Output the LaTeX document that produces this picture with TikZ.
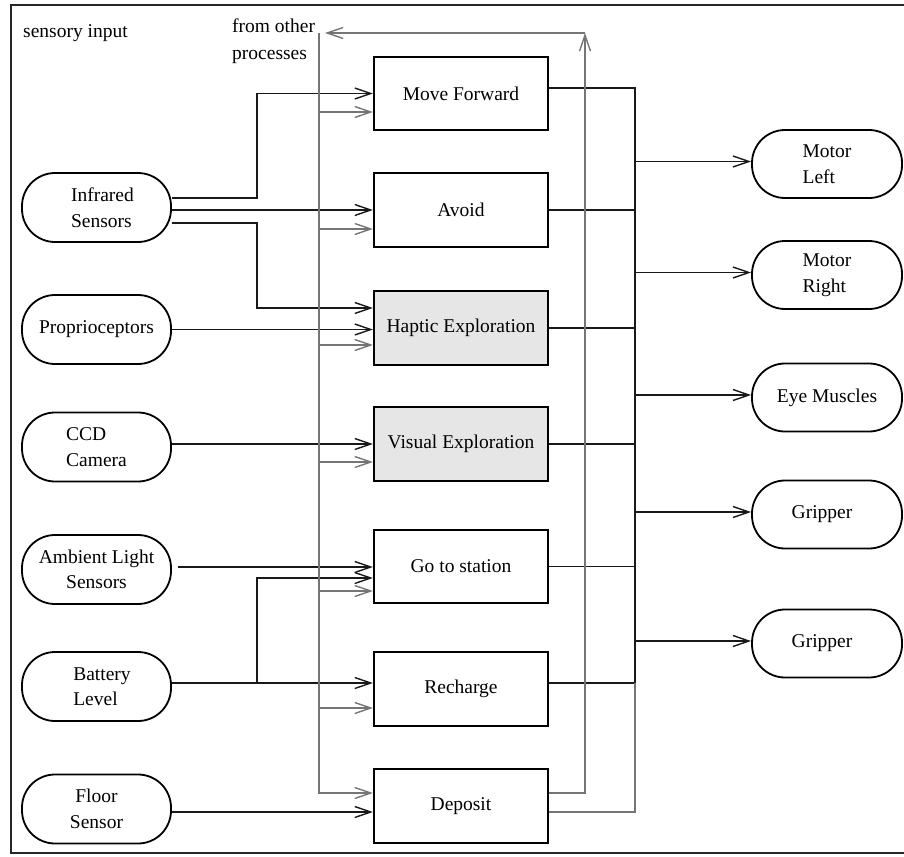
\documentclass[tikz,border=0pt]{standalone}
\usepackage{fontspec}
\setmainfont{Liberation Serif}
\usetikzlibrary{arrows.meta}
\newcommand\lab{\fontsize{19.5}{25.5}\selectfont}
\definecolor{busgray}{HTML}{757575}
\definecolor{boxgray}{HTML}{E6E6E6}
\begin{document}
\begin{tikzpicture}[x=1pt,y=-1pt,
  sensor/.style={draw,line width=1.8,rounded corners=33,minimum width=149,minimum height=69,inner sep=0,font=\lab},
  act/.style={sensor,minimum width=150,minimum height=68},
  proc/.style={draw,line width=2.2,minimum width=174,minimum height=73.5,inner sep=0,font=\lab},
  sig/.style={line width=1.5,draw=black!90},
  bus/.style={line width=1.6,draw=busgray},
  tip/.style={-{Straight Barb[length=16,width=11,line width=1.4]}}]
\useasboundingbox (0,0) rectangle (904,856);
\draw[line width=1.8,draw=black!85] (11,5) rectangle (906,853);

\node[anchor=base west,font=\lab,inner sep=0] (title) at (23,38) {sensory input};
\node[anchor=north west,align=left,inner sep=0,font=\fontsize{19.5}{27}\selectfont] (other) at (232,19) {from other\\processes};

% sensors
\node[sensor,align=left] (ir) at (96.5,207.5) {\hspace*{12pt}Infrared\\\hspace*{12pt}Sensors};
\node[sensor] (prop) at (96.5,329.5) {Proprioceptors};
\node[sensor,align=left] (ccd) at (96.5,447) {CCD\\Camera};
\node[sensor,align=center] (amb) at (96.5,569.5) {Ambient Light\\Sensors};
\node[sensor,align=left] (bat) at (96.5,686.5) {\hspace*{11pt}Battery\\\hspace*{11pt}Level};
\node[sensor,align=center] (floor) at (96.5,809) {Floor\\Sensor};

% processes
\node[proc] (mf) at (461,93.5) {Move Forward};
\node[proc] (av) at (461,210) {Avoid};
\node[proc,fill=boxgray] (hap) at (461,328) {Haptic Exploration};
\node[proc,fill=boxgray] (vis) at (461,444) {Visual Exploration};
\node[proc] (gts) at (461,566.5) {Go to station};
\node[proc] (rech) at (461,689) {Recharge};
\node[proc] (dep) at (461,806) {Deposit};

% actuators
\node[act,align=left] (ml) at (827,164) {Motor\\Left};
\node[act,align=left] (mr) at (827,275) {Motor\\Right};
\node[act] (eye) at (827,397.5) {Eye Muscles};
\node[act] (g1) at (827,514.5) {Gripper\hspace*{10pt}};
\node[act] (g2) at (827,643.5) {Gripper\hspace*{10pt}};

% helper coordinates
\coordinate (jx) at (257,0);
\coordinate (lb) at (319,0);
\coordinate (fb) at (585,0);
\coordinate (rb) at (635,0);
\coordinate (top) at (0,33);

% sensor inputs
\coordinate (irA) at ([yshift=9.5]ir.east);
\coordinate (irC) at ([yshift=-15.5]ir.east);
\coordinate (hapA) at ([yshift=20]hap.west);
\draw[sig,tip] (irA) -| (jx |- mf.west) -- (mf.west);
\draw[sig,tip] (ir.east |- av.west) -- (av.west);
\draw[sig,tip] (irC) -| (jx |- hapA) -- (hapA);
\draw[sig,tip] (prop.east) -- (prop.east -| hap.west);
\draw[sig,tip] (ccd.east |- vis.west) -- (vis.west);
\coordinate (ambO) at ([xshift=6]amb.east);
\coordinate (gtsA) at ([yshift=-0.5]gts.west);
\draw[sig,tip] (ambO |- gtsA) -- (gtsA);
\coordinate (rechA) at ([yshift=6]rech.west);
\coordinate (gtsB) at ([yshift=-11.5]gts.west);
\draw[sig,tip] (bat.east |- rechA) -- (rechA);
\draw[sig,tip] (jx |- rechA) |- (gtsB);
\coordinate (depB) at ([yshift=-6]dep.west);
\draw[sig,tip] (floor.east |- depB) -- (depB);

% left bus (from other processes)
\coordinate (depA) at ([yshift=13]dep.west);
\draw[bus,tip] (lb |- top) |- (depA);
\coordinate (mfB) at ([yshift=-18.5]mf.west);
\coordinate (avB) at ([yshift=-19]av.west);
\coordinate (hapB) at ([yshift=-17]hap.west);
\coordinate (visB) at ([yshift=-18]vis.west);
\coordinate (gtsC) at ([yshift=-24.5]gts.west);
\coordinate (rechB) at ([yshift=-19]rech.west);
\draw[bus,tip] (lb |- mfB) -- (mfB);
\draw[bus,tip] (lb |- avB) -- (avB);
\draw[bus,tip] (lb |- hapB) -- (hapB);
\draw[bus,tip] (lb |- visB) -- (visB);
\draw[bus,tip] (lb |- gtsC) -- (gtsC);
\draw[bus,tip] (lb |- rechB) -- (rechB);

% outputs to the right bus
\coordinate (mfO) at ([yshift=5.5]mf.east);
\coordinate (rechO) at ([yshift=6]rech.east);
\draw[sig] (mfO) -| (rb |- rechO) -- (rechO);
\draw[sig] (av.east) -- (av.east -| rb);
\draw[sig] (hap.east) -- (hap.east -| rb);
\draw[sig] (vis.east) -- (vis.east -| rb);
\draw[sig] (gts.east) -- (gts.east -| rb);
\coordinate (depO) at ([yshift=-6]dep.east);
\draw[bus] (rb |- rechO) |- (depO);

% feedback to other processes
\coordinate (depU) at ([yshift=13]dep.east);
\coordinate (otherTip) at (325,33);
\draw[bus,tip] (depU) -| (fb |- top);
\draw[bus,tip] (fb |- top) -- (otherTip);

% outputs to actuators
\foreach \a in {ml,mr,eye,g1,g2}{
  \coordinate (\a I) at ([yshift=2.5]\a.west);
  \draw[sig,tip] (rb |- \a I) -- (\a I);
}
\end{tikzpicture}
\end{document}
